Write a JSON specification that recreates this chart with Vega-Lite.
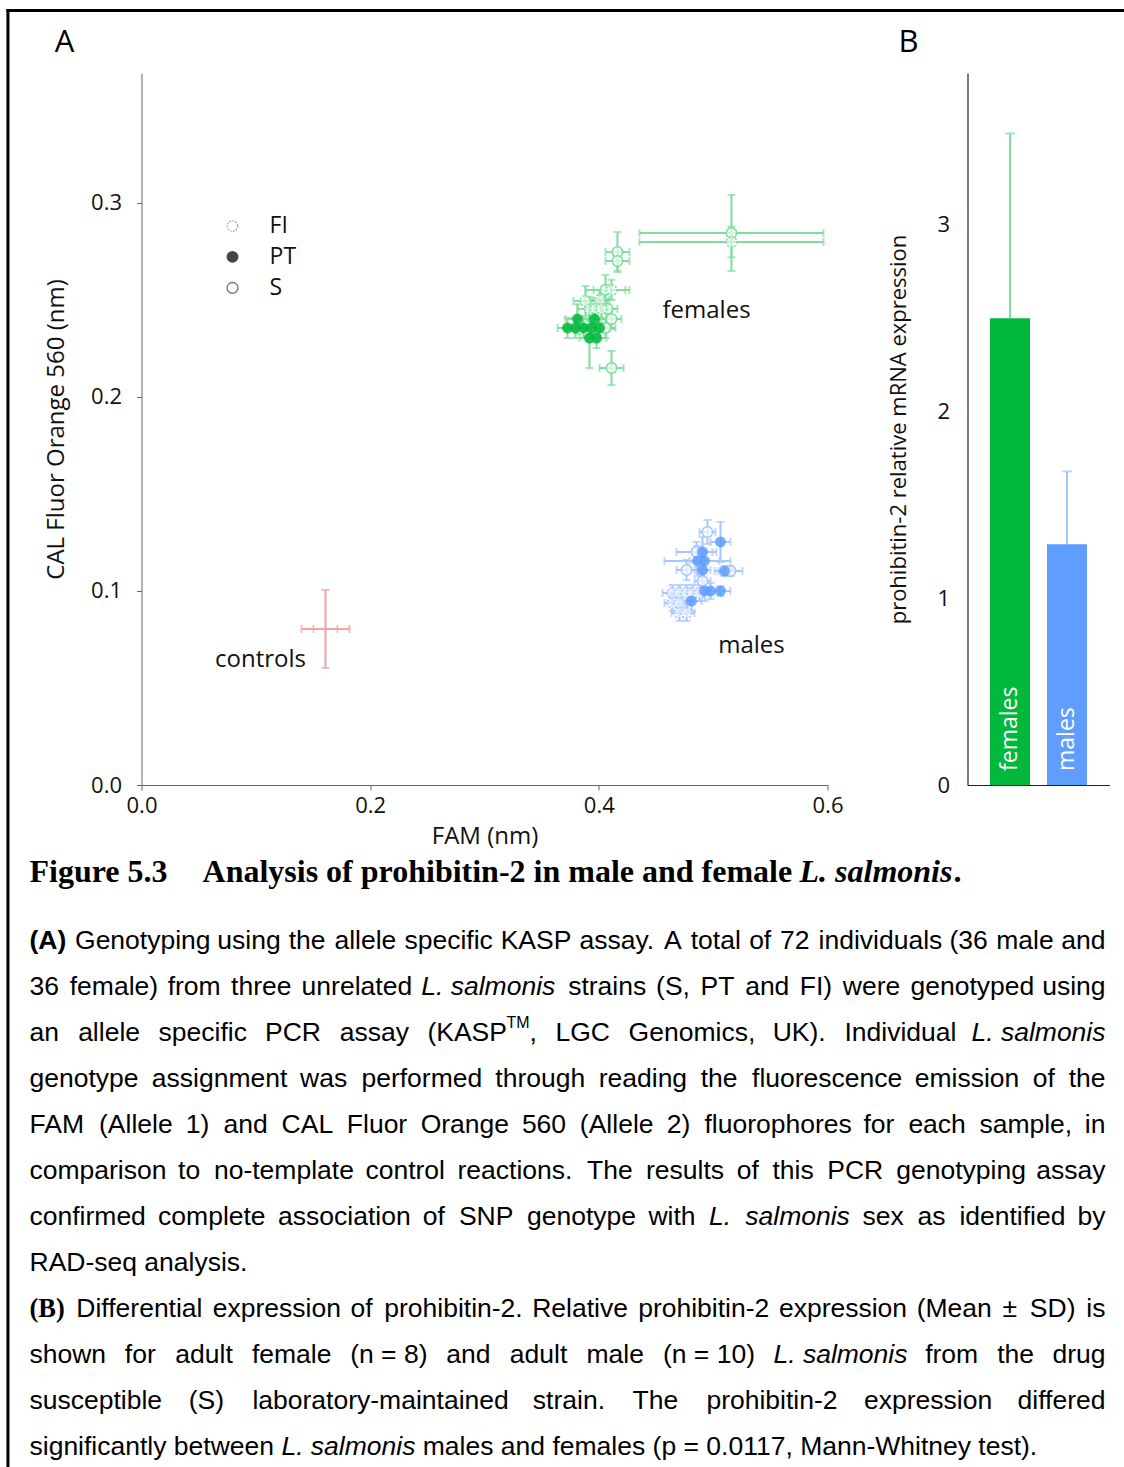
{
  "$schema": "https://vega.github.io/schema/vega-lite/v6.json",
  "background": "white",
  "padding": {"left": 5.5, "top": 8, "right": 0, "bottom": 0},
  "bounds": "flush",
  "columns": 2,
  "spacing": {"row": 0, "column": 140},
  "config": {"view": {"stroke": null}, "font": "Open Sans", "axis": {"grid": false}},
  "datasets": {
    "pts": [
      {"sex": "females", "strain": "S", "x": 0.5160, "y": 0.2845, "xlo": 0.4355, "xhi": 0.5965, "ylo": 0.2649, "yhi": 0.3041},
      {"sex": "females", "strain": "FI", "x": 0.5160, "y": 0.2799, "xlo": 0.4355, "xhi": 0.5965, "ylo": 0.2720, "yhi": 0.2878},
      {"sex": "females", "strain": "S", "x": 0.4163, "y": 0.2747, "xlo": 0.4058, "xhi": 0.4268, "ylo": 0.2644, "yhi": 0.2850},
      {"sex": "females", "strain": "S", "x": 0.4163, "y": 0.2701, "xlo": 0.4058, "xhi": 0.4268, "ylo": 0.2651, "yhi": 0.2751},
      {"sex": "females", "strain": "S", "x": 0.4058, "y": 0.2552, "xlo": 0.3883, "xhi": 0.4233, "ylo": 0.2475, "yhi": 0.2629},
      {"sex": "females", "strain": "FI", "x": 0.4111, "y": 0.2552, "xlo": 0.3954, "xhi": 0.4268, "ylo": 0.2500, "yhi": 0.2604},
      {"sex": "females", "strain": "FI", "x": 0.4006, "y": 0.2500, "xlo": 0.3919, "xhi": 0.4093, "ylo": 0.2448, "yhi": 0.2552},
      {"sex": "females", "strain": "FI", "x": 0.3918, "y": 0.2454, "xlo": 0.3813, "xhi": 0.4023, "ylo": 0.2392, "yhi": 0.2516},
      {"sex": "females", "strain": "FI", "x": 0.3971, "y": 0.2454, "xlo": 0.3884, "xhi": 0.4058, "ylo": 0.2402, "yhi": 0.2506},
      {"sex": "females", "strain": "FI", "x": 0.4023, "y": 0.2454, "xlo": 0.3936, "xhi": 0.4110, "ylo": 0.2402, "yhi": 0.2506},
      {"sex": "females", "strain": "S", "x": 0.4076, "y": 0.2454, "xlo": 0.3989, "xhi": 0.4163, "ylo": 0.2402, "yhi": 0.2506},
      {"sex": "females", "strain": "PT", "x": 0.3813, "y": 0.2402, "xlo": 0.3708, "xhi": 0.3918, "ylo": 0.2325, "yhi": 0.2479},
      {"sex": "females", "strain": "PT", "x": 0.3962, "y": 0.2402, "xlo": 0.3857, "xhi": 0.4067, "ylo": 0.2325, "yhi": 0.2479},
      {"sex": "females", "strain": "S", "x": 0.4111, "y": 0.2402, "xlo": 0.4024, "xhi": 0.4198, "ylo": 0.2350, "yhi": 0.2454},
      {"sex": "females", "strain": "PT", "x": 0.3726, "y": 0.2356, "xlo": 0.3639, "xhi": 0.3813, "ylo": 0.2304, "yhi": 0.2408},
      {"sex": "females", "strain": "PT", "x": 0.3796, "y": 0.2356, "xlo": 0.3709, "xhi": 0.3883, "ylo": 0.2304, "yhi": 0.2408},
      {"sex": "females", "strain": "PT", "x": 0.3866, "y": 0.2356, "xlo": 0.3779, "xhi": 0.3953, "ylo": 0.2304, "yhi": 0.2408},
      {"sex": "females", "strain": "PT", "x": 0.3936, "y": 0.2356, "xlo": 0.3849, "xhi": 0.4023, "ylo": 0.2304, "yhi": 0.2408},
      {"sex": "females", "strain": "PT", "x": 0.4006, "y": 0.2356, "xlo": 0.3919, "xhi": 0.4093, "ylo": 0.2304, "yhi": 0.2408},
      {"sex": "females", "strain": "PT", "x": 0.3918, "y": 0.2304, "xlo": 0.3831, "xhi": 0.4005, "ylo": 0.2149, "yhi": 0.2459},
      {"sex": "females", "strain": "PT", "x": 0.3980, "y": 0.2304, "xlo": 0.3893, "xhi": 0.4067, "ylo": 0.2252, "yhi": 0.2356},
      {"sex": "females", "strain": "S", "x": 0.4111, "y": 0.2149, "xlo": 0.4006, "xhi": 0.4216, "ylo": 0.2061, "yhi": 0.2237},
      {"sex": "females", "strain": "S", "x": 0.4058, "y": 0.2356, "xlo": 0.3971, "xhi": 0.4145, "ylo": 0.2304, "yhi": 0.2408},
      {"sex": "females", "strain": "FI", "x": 0.3883, "y": 0.2495, "xlo": 0.3778, "xhi": 0.3988, "ylo": 0.2418, "yhi": 0.2572},
      {"sex": "males", "strain": "S", "x": 0.4950, "y": 0.1304, "xlo": 0.4880, "xhi": 0.5020, "ylo": 0.1242, "yhi": 0.1366},
      {"sex": "males", "strain": "PT", "x": 0.5064, "y": 0.1253, "xlo": 0.4977, "xhi": 0.5151, "ylo": 0.1150, "yhi": 0.1356},
      {"sex": "males", "strain": "S", "x": 0.4854, "y": 0.1201, "xlo": 0.4679, "xhi": 0.5029, "ylo": 0.1149, "yhi": 0.1253},
      {"sex": "males", "strain": "PT", "x": 0.4907, "y": 0.1201, "xlo": 0.4820, "xhi": 0.4994, "ylo": 0.1124, "yhi": 0.1278},
      {"sex": "males", "strain": "PT", "x": 0.4863, "y": 0.1155, "xlo": 0.4574, "xhi": 0.5152, "ylo": 0.1078, "yhi": 0.1232},
      {"sex": "males", "strain": "PT", "x": 0.4924, "y": 0.1155, "xlo": 0.4793, "xhi": 0.5055, "ylo": 0.1103, "yhi": 0.1207},
      {"sex": "males", "strain": "S", "x": 0.4767, "y": 0.1108, "xlo": 0.4680, "xhi": 0.4854, "ylo": 0.1056, "yhi": 0.1160},
      {"sex": "males", "strain": "PT", "x": 0.4907, "y": 0.1108, "xlo": 0.4837, "xhi": 0.4977, "ylo": 0.1067, "yhi": 0.1149},
      {"sex": "males", "strain": "PT", "x": 0.5099, "y": 0.1103, "xlo": 0.5012, "xhi": 0.5186, "ylo": 0.1077, "yhi": 0.1129},
      {"sex": "males", "strain": "S", "x": 0.5152, "y": 0.1103, "xlo": 0.5047, "xhi": 0.5257, "ylo": 0.1077, "yhi": 0.1129},
      {"sex": "males", "strain": "S", "x": 0.4907, "y": 0.1052, "xlo": 0.4837, "xhi": 0.4977, "ylo": 0.1011, "yhi": 0.1093},
      {"sex": "males", "strain": "FI", "x": 0.4644, "y": 0.0990, "xlo": 0.4557, "xhi": 0.4731, "ylo": 0.0949, "yhi": 0.1031},
      {"sex": "males", "strain": "FI", "x": 0.4705, "y": 0.0990, "xlo": 0.4618, "xhi": 0.4792, "ylo": 0.0949, "yhi": 0.1031},
      {"sex": "males", "strain": "FI", "x": 0.4767, "y": 0.0990, "xlo": 0.4680, "xhi": 0.4854, "ylo": 0.0949, "yhi": 0.1031},
      {"sex": "males", "strain": "FI", "x": 0.4819, "y": 0.0990, "xlo": 0.4732, "xhi": 0.4906, "ylo": 0.0949, "yhi": 0.1031},
      {"sex": "males", "strain": "FI", "x": 0.4880, "y": 0.0990, "xlo": 0.4793, "xhi": 0.4967, "ylo": 0.0949, "yhi": 0.1031},
      {"sex": "males", "strain": "PT", "x": 0.4924, "y": 0.1000, "xlo": 0.4793, "xhi": 0.5055, "ylo": 0.0948, "yhi": 0.1052},
      {"sex": "males", "strain": "PT", "x": 0.4977, "y": 0.1000, "xlo": 0.4890, "xhi": 0.5064, "ylo": 0.0959, "yhi": 0.1041},
      {"sex": "males", "strain": "PT", "x": 0.5064, "y": 0.1000, "xlo": 0.4977, "xhi": 0.5151, "ylo": 0.0974, "yhi": 0.1026},
      {"sex": "males", "strain": "FI", "x": 0.4644, "y": 0.0938, "xlo": 0.4574, "xhi": 0.4714, "ylo": 0.0897, "yhi": 0.0979},
      {"sex": "males", "strain": "FI", "x": 0.4705, "y": 0.0938, "xlo": 0.4635, "xhi": 0.4775, "ylo": 0.0897, "yhi": 0.0979},
      {"sex": "males", "strain": "PT", "x": 0.4811, "y": 0.0948, "xlo": 0.4724, "xhi": 0.4898, "ylo": 0.0896, "yhi": 0.1000},
      {"sex": "males", "strain": "FI", "x": 0.4705, "y": 0.0887, "xlo": 0.4635, "xhi": 0.4775, "ylo": 0.0846, "yhi": 0.0928},
      {"sex": "males", "strain": "FI", "x": 0.4767, "y": 0.0887, "xlo": 0.4697, "xhi": 0.4837, "ylo": 0.0846, "yhi": 0.0928},
      {"sex": "controls", "strain": "NTC", "x": 0.1609, "y": 0.0804, "xlo": 0.1399, "xhi": 0.1819, "ylo": 0.0603, "yhi": 0.1005},
      {"sex": "controls", "strain": "NTC", "x": 0.1609, "y": 0.0804, "xlo": 0.1504, "xhi": 0.1714, "ylo": 0.0804, "yhi": 0.0804}
    ],
    "expr": [
      {"sex": "females", "mean": 2.5, "hi": 3.49},
      {"sex": "males", "mean": 1.29, "hi": 1.68}
    ],
    "cap": [
      {"ln": -0.5, "at": 0, "t": "Figure 5.3", "s": "tt"},
      {"ln": -0.5, "at": 16.08, "t": "Analysis of prohibitin-2 in male and female", "s": "tt"},
      {"ln": -0.5, "at": 71.56, "t": "L. salmonis", "s": "ti"},
      {"ln": -0.5, "at": 85.87, "t": ".", "s": "tt"},
      {"ln": 1, "at": 0, "t": "(A)", "s": "b"},
      {"ln": 1, "at": 4.23, "t": "Genotyping", "s": "n"},
      {"ln": 1, "at": 17.45, "t": "using", "s": "n"},
      {"ln": 1, "at": 24.09, "t": "the", "s": "n"},
      {"ln": 1, "at": 28.34, "t": "allele", "s": "n"},
      {"ln": 1, "at": 34.85, "t": "specific", "s": "n"},
      {"ln": 1, "at": 43.79, "t": "KASP", "s": "n"},
      {"ln": 1, "at": 51.11, "t": "assay.", "s": "n"},
      {"ln": 1, "at": 58.96, "t": "A", "s": "n"},
      {"ln": 1, "at": 61.45, "t": "total", "s": "n"},
      {"ln": 1, "at": 66.88, "t": "of", "s": "n"},
      {"ln": 1, "at": 69.76, "t": "72", "s": "n"},
      {"ln": 1, "at": 73.33, "t": "individuals", "s": "n"},
      {"ln": 1, "at": 85.5, "t": "(36", "s": "n"},
      {"ln": 1, "at": 89.85, "t": "male", "s": "n"},
      {"ln": 1, "at": 100, "t": "and", "s": "nr"},
      {"ln": 2, "at": 0, "t": "36", "s": "n"},
      {"ln": 2, "at": 3.74, "t": "female)", "s": "n"},
      {"ln": 2, "at": 12.84, "t": "from", "s": "n"},
      {"ln": 2, "at": 18.73, "t": "three", "s": "n"},
      {"ln": 2, "at": 25.29, "t": "unrelated", "s": "n"},
      {"ln": 2, "at": 36.41, "t": "L. salmonis", "s": "i"},
      {"ln": 2, "at": 50.06, "t": "strains", "s": "n"},
      {"ln": 2, "at": 58.23, "t": "(S,", "s": "n"},
      {"ln": 2, "at": 62.37, "t": "PT", "s": "n"},
      {"ln": 2, "at": 66.51, "t": "and", "s": "n"},
      {"ln": 2, "at": 71.59, "t": "FI)", "s": "n"},
      {"ln": 2, "at": 75.59, "t": "were", "s": "n"},
      {"ln": 2, "at": 81.88, "t": "genotyped", "s": "n"},
      {"ln": 2, "at": 100, "t": "using", "s": "nr"},
      {"ln": 3, "at": 0, "t": "an", "s": "n"},
      {"ln": 3, "at": 4.52, "t": "allele", "s": "n"},
      {"ln": 3, "at": 12.0, "t": "specific", "s": "n"},
      {"ln": 3, "at": 21.89, "t": "PCR", "s": "n"},
      {"ln": 3, "at": 28.83, "t": "assay", "s": "n"},
      {"ln": 3, "at": 36.98, "t": "(KASP", "s": "n"},
      {"ln": 3, "at": 44.32, "t": "TM", "s": "sup"},
      {"ln": 3, "at": 46.47, "t": ",", "s": "n"},
      {"ln": 3, "at": 48.88, "t": "LGC", "s": "n"},
      {"ln": 3, "at": 55.68, "t": "Genomics,", "s": "n"},
      {"ln": 3, "at": 69.07, "t": "UK).", "s": "n"},
      {"ln": 3, "at": 75.74, "t": "Individual", "s": "n"},
      {"ln": 3, "at": 100, "t": "L. salmonis", "s": "ir"},
      {"ln": 4, "at": 0, "t": "genotype", "s": "n"},
      {"ln": 4, "at": 11.37, "t": "assignment", "s": "n"},
      {"ln": 4, "at": 25.14, "t": "was", "s": "n"},
      {"ln": 4, "at": 30.85, "t": "performed", "s": "n"},
      {"ln": 4, "at": 43.29, "t": "through", "s": "n"},
      {"ln": 4, "at": 52.9, "t": "reading", "s": "n"},
      {"ln": 4, "at": 62.38, "t": "the", "s": "n"},
      {"ln": 4, "at": 67.15, "t": "fluorescence", "s": "n"},
      {"ln": 4, "at": 82.27, "t": "emission", "s": "n"},
      {"ln": 4, "at": 93.23, "t": "of", "s": "n"},
      {"ln": 4, "at": 100, "t": "the", "s": "nr"},
      {"ln": 5, "at": 0, "t": "FAM", "s": "n"},
      {"ln": 5, "at": 6.46, "t": "(Allele", "s": "n"},
      {"ln": 5, "at": 14.52, "t": "1)", "s": "n"},
      {"ln": 5, "at": 18.04, "t": "and", "s": "n"},
      {"ln": 5, "at": 23.43, "t": "CAL", "s": "n"},
      {"ln": 5, "at": 29.49, "t": "Fluor", "s": "n"},
      {"ln": 5, "at": 36.35, "t": "Orange", "s": "n"},
      {"ln": 5, "at": 45.76, "t": "560", "s": "n"},
      {"ln": 5, "at": 51.15, "t": "(Allele", "s": "n"},
      {"ln": 5, "at": 59.22, "t": "2)", "s": "n"},
      {"ln": 5, "at": 62.73, "t": "fluorophores", "s": "n"},
      {"ln": 5, "at": 77.51, "t": "for", "s": "n"},
      {"ln": 5, "at": 81.68, "t": "each", "s": "n"},
      {"ln": 5, "at": 88.28, "t": "sample,", "s": "n"},
      {"ln": 5, "at": 100, "t": "in", "s": "nr"},
      {"ln": 6, "at": 0, "t": "comparison", "s": "n"},
      {"ln": 6, "at": 13.81, "t": "to", "s": "n"},
      {"ln": 6, "at": 17.14, "t": "no-template", "s": "n"},
      {"ln": 6, "at": 31.22, "t": "control", "s": "n"},
      {"ln": 6, "at": 39.78, "t": "reactions.", "s": "n"},
      {"ln": 6, "at": 51.81, "t": "The", "s": "n"},
      {"ln": 6, "at": 57.29, "t": "results", "s": "n"},
      {"ln": 6, "at": 65.72, "t": "of", "s": "n"},
      {"ln": 6, "at": 69.05, "t": "this", "s": "n"},
      {"ln": 6, "at": 74.14, "t": "PCR", "s": "n"},
      {"ln": 6, "at": 80.55, "t": "genotyping", "s": "n"},
      {"ln": 6, "at": 100, "t": "assay", "s": "nr"},
      {"ln": 7, "at": 0, "t": "confirmed", "s": "n"},
      {"ln": 7, "at": 11.95, "t": "complete", "s": "n"},
      {"ln": 7, "at": 23.1, "t": "association", "s": "n"},
      {"ln": 7, "at": 36.54, "t": "of", "s": "n"},
      {"ln": 7, "at": 39.91, "t": "SNP", "s": "n"},
      {"ln": 7, "at": 46.23, "t": "genotype", "s": "n"},
      {"ln": 7, "at": 57.52, "t": "with", "s": "n"},
      {"ln": 7, "at": 63.16, "t": "L.", "s": "i"},
      {"ln": 7, "at": 66.52, "t": "salmonis", "s": "i"},
      {"ln": 7, "at": 77.41, "t": "sex", "s": "n"},
      {"ln": 7, "at": 82.52, "t": "as", "s": "n"},
      {"ln": 7, "at": 86.42, "t": "identified", "s": "n"},
      {"ln": 7, "at": 100, "t": "by", "s": "nr"},
      {"ln": 8, "at": 0, "t": "RAD-seq analysis.", "s": "n"},
      {"ln": 9, "at": 0, "t": "(B)", "s": "bs"},
      {"ln": 9, "at": 4.35, "t": "Differential", "s": "n"},
      {"ln": 9, "at": 17.03, "t": "expression", "s": "n"},
      {"ln": 9, "at": 29.83, "t": "of", "s": "n"},
      {"ln": 9, "at": 32.97, "t": "prohibitin-2.", "s": "n"},
      {"ln": 9, "at": 46.72, "t": "Relative", "s": "n"},
      {"ln": 9, "at": 56.57, "t": "prohibitin-2", "s": "n"},
      {"ln": 9, "at": 69.65, "t": "expression", "s": "n"},
      {"ln": 9, "at": 82.45, "t": "(Mean", "s": "n"},
      {"ln": 9, "at": 90.43, "t": "±", "s": "n"},
      {"ln": 9, "at": 92.97, "t": "SD)", "s": "n"},
      {"ln": 9, "at": 100, "t": "is", "s": "nr"},
      {"ln": 10, "at": 0, "t": "shown", "s": "n"},
      {"ln": 10, "at": 8.86, "t": "for", "s": "n"},
      {"ln": 10, "at": 13.55, "t": "adult", "s": "n"},
      {"ln": 10, "at": 20.67, "t": "female", "s": "n"},
      {"ln": 10, "at": 29.8, "t": "(n = 8)", "s": "n"},
      {"ln": 10, "at": 38.73, "t": "and", "s": "n"},
      {"ln": 10, "at": 44.64, "t": "adult", "s": "n"},
      {"ln": 10, "at": 51.76, "t": "male", "s": "n"},
      {"ln": 10, "at": 58.87, "t": "(n = 10)", "s": "n"},
      {"ln": 10, "at": 69.14, "t": "L. salmonis", "s": "i"},
      {"ln": 10, "at": 83.24, "t": "from", "s": "n"},
      {"ln": 10, "at": 89.94, "t": "the", "s": "n"},
      {"ln": 10, "at": 100, "t": "drug", "s": "nr"},
      {"ln": 11, "at": 0, "t": "susceptible", "s": "n"},
      {"ln": 11, "at": 14.79, "t": "(S)", "s": "n"},
      {"ln": 11, "at": 20.72, "t": "laboratory-maintained", "s": "n"},
      {"ln": 11, "at": 46.78, "t": "strain.", "s": "n"},
      {"ln": 11, "at": 56.05, "t": "The", "s": "n"},
      {"ln": 11, "at": 62.91, "t": "prohibitin-2", "s": "n"},
      {"ln": 11, "at": 77.56, "t": "expression", "s": "n"},
      {"ln": 11, "at": 100, "t": "differed", "s": "nr"},
      {"ln": 12, "at": 0, "t": "significantly between", "s": "n"},
      {"ln": 12, "at": 23.41, "t": "L. salmonis", "s": "i"},
      {"ln": 12, "at": 36.55, "t": "males and females (p = 0.0117, Mann-Whitney test).", "s": "n"}
    ]
  },
  "concat": [
    {
      "width": 686,
      "height": 712,
      "data": {"name": "pts"},
      "layer": [
        {
          "mark": {"type": "rule", "strokeWidth": 2},
          "encoding": {
            "x": {"field": "xlo", "type": "quantitative", "scale": {"domain": [0, 0.6], "nice": false, "zero": false},
              "axis": {"values": [0, 0.2, 0.4, 0.6], "format": ".1f", "title": "FAM (nm)", "titleFontSize": 24, "titleFontWeight": "normal", "titleColor": "#111", "titlePadding": 8, "labelFontSize": 22, "labelColor": "#111", "labelPadding": 5, "tickSize": 5, "tickColor": "#666", "domainColor": "#666", "labelFlush": false, "labelOverlap": false, "grid": false}},
            "x2": {"field": "xhi"},
            "y": {"field": "y", "type": "quantitative", "scale": {"domain": [0, 0.367], "nice": false, "zero": false},
              "axis": {"values": [0, 0.1, 0.2, 0.3], "format": ".1f", "title": "CAL Fluor Orange 560 (nm)", "titleFontSize": 24, "titleFontWeight": "normal", "titleColor": "#111", "titlePadding": 22, "labelFontSize": 22, "labelColor": "#111", "labelPadding": 15, "tickSize": 5, "tickColor": "#666", "domainColor": "#666", "labelFlush": false, "labelOverlap": false, "grid": false}},
            "color": {"field": "sex", "type": "nominal", "scale": {"domain": ["females", "males", "controls"], "range": ["#80dd9e", "#a6c6ff", "#f5a3a3"]}, "legend": null}
          }
        },
        {
          "mark": {"type": "rule", "strokeWidth": 2},
          "encoding": {
            "x": {"field": "x", "type": "quantitative"},
            "y": {"field": "ylo", "type": "quantitative"},
            "y2": {"field": "yhi"},
            "color": {"field": "sex", "type": "nominal", "legend": null}
          }
        },
        {
          "mark": {"type": "tick", "orient": "vertical", "size": 8, "thickness": 2},
          "encoding": {
            "x": {"field": "xlo", "type": "quantitative"},
            "y": {"field": "y", "type": "quantitative"},
            "color": {"field": "sex", "type": "nominal", "legend": null}
          }
        },
        {
          "mark": {"type": "tick", "orient": "vertical", "size": 8, "thickness": 2},
          "encoding": {
            "x": {"field": "xhi", "type": "quantitative"},
            "y": {"field": "y", "type": "quantitative"},
            "color": {"field": "sex", "type": "nominal", "legend": null}
          }
        },
        {
          "transform": [{"filter": "datum.yhi > datum.ylo"}],
          "mark": {"type": "tick", "orient": "horizontal", "size": 8, "thickness": 2},
          "encoding": {
            "x": {"field": "x", "type": "quantitative"},
            "y": {"field": "ylo", "type": "quantitative"},
            "color": {"field": "sex", "type": "nominal", "legend": null}
          }
        },
        {
          "transform": [{"filter": "datum.yhi > datum.ylo"}],
          "mark": {"type": "tick", "orient": "horizontal", "size": 8, "thickness": 2},
          "encoding": {
            "x": {"field": "x", "type": "quantitative"},
            "y": {"field": "yhi", "type": "quantitative"},
            "color": {"field": "sex", "type": "nominal", "legend": null}
          }
        },
        {
          "transform": [{"filter": "datum.strain === 'S'"}],
          "mark": {"type": "circle", "size": 110, "fill": "white", "fillOpacity": 0.65, "strokeWidth": 1.6},
          "encoding": {
            "x": {"field": "x", "type": "quantitative"},
            "y": {"field": "y", "type": "quantitative"},
            "stroke": {"field": "sex", "type": "nominal", "scale": {"domain": ["females", "males", "controls"], "range": ["#80dd9e", "#a6c6ff", "#f5a3a3"]}, "legend": null}
          }
        },
        {
          "transform": [{"filter": "datum.strain === 'FI'"}],
          "mark": {"type": "circle", "size": 110, "fill": "white", "fillOpacity": 0.55, "strokeWidth": 1.6, "strokeDash": [2, 1.5]},
          "encoding": {
            "x": {"field": "x", "type": "quantitative"},
            "y": {"field": "y", "type": "quantitative"},
            "stroke": {"field": "sex", "type": "nominal", "legend": null}
          }
        },
        {
          "transform": [{"filter": "datum.strain === 'PT'"}],
          "mark": {"type": "circle", "size": 120, "opacity": 0.85},
          "encoding": {
            "x": {"field": "x", "type": "quantitative"},
            "y": {"field": "y", "type": "quantitative"},
            "fill": {"field": "sex", "type": "nominal", "scale": {"domain": ["females", "males", "controls"], "range": ["#00b83b", "#5f9dff", "#f08080"]}, "legend": null}
          }
        },
        {
          "data": {"values": [{}]},
          "mark": {"type": "circle", "size": 110, "fill": "white", "stroke": "#777", "strokeWidth": 1.3, "strokeDash": [1.5, 1.5]},
          "encoding": {"x": {"datum": 0.0796, "type": "quantitative"}, "y": {"datum": 0.2881, "type": "quantitative"}}
        },
        {
          "data": {"values": [{}]},
          "mark": {"type": "circle", "size": 140, "fill": "#444", "opacity": 1},
          "encoding": {"x": {"datum": 0.0796, "type": "quantitative"}, "y": {"datum": 0.2722, "type": "quantitative"}}
        },
        {
          "data": {"values": [{}]},
          "mark": {"type": "circle", "size": 120, "fill": "white", "stroke": "#333", "strokeWidth": 1.3},
          "encoding": {"x": {"datum": 0.0796, "type": "quantitative"}, "y": {"datum": 0.2562, "type": "quantitative"}}
        },
        {
          "data": {"values": [{}]},
          "mark": {"type": "text", "align": "left", "baseline": "middle", "fontSize": 23, "color": "#111", "font": "Open Sans"},
          "encoding": {"x": {"datum": 0.112, "type": "quantitative"}, "y": {"datum": 0.2881, "type": "quantitative"}, "text": {"value": "FI"}}
        },
        {
          "data": {"values": [{}]},
          "mark": {"type": "text", "align": "left", "baseline": "middle", "fontSize": 23, "color": "#111", "font": "Open Sans"},
          "encoding": {"x": {"datum": 0.112, "type": "quantitative"}, "y": {"datum": 0.2722, "type": "quantitative"}, "text": {"value": "PT"}}
        },
        {
          "data": {"values": [{}]},
          "mark": {"type": "text", "align": "left", "baseline": "middle", "fontSize": 23, "color": "#111", "font": "Open Sans"},
          "encoding": {"x": {"datum": 0.112, "type": "quantitative"}, "y": {"datum": 0.2562, "type": "quantitative"}, "text": {"value": "S"}}
        },
        {
          "data": {"values": [{}]},
          "mark": {"type": "text", "align": "center", "baseline": "middle", "fontSize": 24, "color": "#111", "font": "Open Sans"},
          "encoding": {"x": {"datum": 0.4942, "type": "quantitative"}, "y": {"datum": 0.2443, "type": "quantitative"}, "text": {"value": "females"}}
        },
        {
          "data": {"values": [{}]},
          "mark": {"type": "text", "align": "center", "baseline": "middle", "fontSize": 24, "color": "#111", "font": "Open Sans"},
          "encoding": {"x": {"datum": 0.5335, "type": "quantitative"}, "y": {"datum": 0.0716, "type": "quantitative"}, "text": {"value": "males"}}
        },
        {
          "data": {"values": [{}]},
          "mark": {"type": "text", "align": "center", "baseline": "middle", "fontSize": 24, "color": "#111", "font": "Open Sans"},
          "encoding": {"x": {"datum": 0.1041, "type": "quantitative"}, "y": {"datum": 0.0644, "type": "quantitative"}, "text": {"value": "controls"}}
        },
        {
          "data": {"values": [{}]},
          "mark": {"type": "text", "align": "center", "baseline": "middle", "fontSize": 31, "color": "#000", "font": "Open Sans"},
          "encoding": {"x": {"datum": -0.0673, "type": "quantitative"}, "y": {"datum": 0.3825, "type": "quantitative"}, "text": {"value": "A"}}
        },
        {
          "data": {"values": [{}]},
          "mark": {"type": "text", "align": "center", "baseline": "middle", "fontSize": 31, "color": "#000", "font": "Open Sans"},
          "encoding": {"x": {"datum": 0.6708, "type": "quantitative"}, "y": {"datum": 0.3825, "type": "quantitative"}, "text": {"value": "B"}}
        },
        {
          "data": {"values": [{}]},
          "mark": {"type": "rule", "strokeWidth": 3, "color": "#000", "strokeCap": "square"},
          "encoding": {"x": {"datum": -0.1168, "type": "quantitative"}, "y": {"datum": 0.39923, "type": "quantitative"}, "y2": {"datum": -0.36}}
        },
        {
          "data": {"values": [{}]},
          "mark": {"type": "rule", "strokeWidth": 3, "color": "#000", "strokeCap": "square"},
          "encoding": {"x": {"datum": -0.1168, "type": "quantitative"}, "x2": {"datum": 0.87}, "y": {"datum": 0.39923, "type": "quantitative"}}
        }
      ]
    },
    {
      "width": 142,
      "height": 712,
      "data": {"name": "expr"},
      "encoding": {
        "x": {"field": "sex", "type": "nominal", "scale": {"domain": ["females", "males"], "paddingInner": 0.298, "paddingOuter": 0.395},
          "axis": {"labels": false, "ticks": false, "title": null, "domainColor": "#222", "domainWidth": 1.2}}
      },
      "layer": [
        {
          "mark": {"type": "bar"},
          "encoding": {
            "y": {"field": "mean", "type": "quantitative", "scale": {"domain": [0, 3.814], "nice": false},
              "axis": {"values": [0, 1, 2, 3], "format": "d", "ticks": false, "labelPadding": 18, "labelFontSize": 22, "labelColor": "#111", "title": "prohibitin-2 relative mRNA expression", "titleFontSize": 22, "titleFontWeight": "normal", "titleColor": "#111", "titlePadding": 26, "domainColor": "#222", "domainWidth": 1.2, "grid": false}},
            "fill": {"field": "sex", "type": "nominal", "scale": {"domain": ["females", "males", "controls"], "range": ["#00b83b", "#5f9dff", "#f08080"]}, "legend": null}
          }
        },
        {
          "mark": {"type": "rule", "strokeWidth": 2},
          "encoding": {
            "y": {"field": "mean", "type": "quantitative"},
            "y2": {"field": "hi"},
            "color": {"field": "sex", "type": "nominal", "scale": {"domain": ["females", "males", "controls"], "range": ["#80dd9e", "#a6c6ff", "#f5a3a3"]}, "legend": null}
          }
        },
        {
          "mark": {"type": "tick", "orient": "horizontal", "size": 10, "thickness": 2},
          "encoding": {
            "y": {"field": "hi", "type": "quantitative"},
            "color": {"field": "sex", "type": "nominal", "legend": null}
          }
        },
        {
          "mark": {"type": "text", "angle": 270, "align": "left", "baseline": "middle", "dx": 14, "fontSize": 23, "color": "white", "font": "Open Sans"},
          "encoding": {
            "y": {"datum": 0, "type": "quantitative"},
            "text": {"field": "sex"}
          }
        }
      ]
    },
    {
      "width": 686,
      "height": 683,
      "data": {"name": "cap"},
      "encoding": {
        "x": {"field": "at", "type": "quantitative", "scale": {"domain": [0, 100], "range": [-112, 964]}, "axis": null},
        "y": {"field": "ln", "type": "quantitative", "scale": {"domain": [-2.3913, 12.4565], "range": [0, 683]}, "axis": null}
      },
      "layer": [
        {
          "transform": [{"filter": "datum.s === 'n'"}],
          "mark": {"type": "text", "align": "left", "baseline": "middle", "font": "Liberation Sans", "fontSize": 26.5, "color": "#000"},
          "encoding": {"text": {"field": "t"}}
        },
        {
          "transform": [{"filter": "datum.s === 'nr'"}],
          "mark": {"type": "text", "align": "right", "baseline": "middle", "font": "Liberation Sans", "fontSize": 26.5, "color": "#000"},
          "encoding": {"text": {"field": "t"}}
        },
        {
          "transform": [{"filter": "datum.s === 'i'"}],
          "mark": {"type": "text", "align": "left", "baseline": "middle", "font": "Liberation Sans", "fontStyle": "italic", "fontSize": 26.5, "color": "#000"},
          "encoding": {"text": {"field": "t"}}
        },
        {
          "transform": [{"filter": "datum.s === 'ir'"}],
          "mark": {"type": "text", "align": "right", "baseline": "middle", "font": "Liberation Sans", "fontStyle": "italic", "fontSize": 26.5, "color": "#000"},
          "encoding": {"text": {"field": "t"}}
        },
        {
          "transform": [{"filter": "datum.s === 'b'"}],
          "mark": {"type": "text", "align": "left", "baseline": "middle", "font": "Liberation Sans", "fontWeight": "bold", "fontSize": 26.5, "color": "#000"},
          "encoding": {"text": {"field": "t"}}
        },
        {
          "transform": [{"filter": "datum.s === 'bs'"}],
          "mark": {"type": "text", "align": "left", "baseline": "middle", "font": "Liberation Serif", "fontWeight": "bold", "fontSize": 26.5, "color": "#000"},
          "encoding": {"text": {"field": "t"}}
        },
        {
          "transform": [{"filter": "datum.s === 'sup'"}],
          "mark": {"type": "text", "align": "left", "baseline": "middle", "font": "Liberation Sans", "fontSize": 16, "dy": -10, "color": "#000"},
          "encoding": {"text": {"field": "t"}}
        },
        {
          "transform": [{"filter": "datum.s === 'tt'"}],
          "mark": {"type": "text", "align": "left", "baseline": "middle", "font": "Liberation Serif", "fontWeight": "bold", "fontSize": 32, "color": "#000"},
          "encoding": {"text": {"field": "t"}}
        },
        {
          "transform": [{"filter": "datum.s === 'ti'"}],
          "mark": {"type": "text", "align": "left", "baseline": "middle", "font": "Liberation Serif", "fontWeight": "bold", "fontStyle": "italic", "fontSize": 32, "color": "#000"},
          "encoding": {"text": {"field": "t"}}
        }
      ]
    }
  ]
}
